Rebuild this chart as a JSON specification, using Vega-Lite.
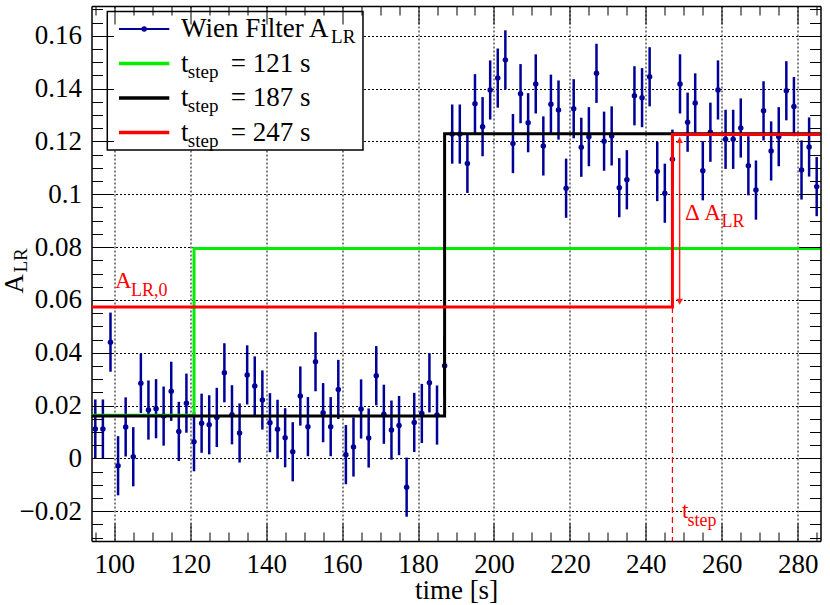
{
  "$schema": "https://vega.github.io/schema/vega-lite/v6.json",
  "width": 729,
  "height": 535,
  "autosize": {"type": "none"},
  "padding": {"left": 91.5, "top": 6, "right": 9.5, "bottom": 64},
  "background": "white",
  "config": {"view": {"stroke": null}, "font": "Liberation Serif", "text": {"font": "Liberation Serif"}},
  "datasets": {
    "points": [
      {"t": 95, "a": 0.0111, "err": 0.0112}, {"t": 97, "a": 0.0111, "err": 0.0112}, {"t": 99, "a": 0.0440, "err": 0.0112},
      {"t": 101, "a": -0.0028, "err": 0.0112}, {"t": 103, "a": 0.0119, "err": 0.0112}, {"t": 105, "a": 0.0006, "err": 0.0112},
      {"t": 107, "a": 0.0284, "err": 0.0112}, {"t": 109, "a": 0.0183, "err": 0.0112}, {"t": 111, "a": 0.0188, "err": 0.0112},
      {"t": 113, "a": 0.0160, "err": 0.0112}, {"t": 115, "a": 0.0254, "err": 0.0112}, {"t": 117, "a": 0.0102, "err": 0.0112},
      {"t": 119, "a": 0.0209, "err": 0.0112}, {"t": 121, "a": 0.0063, "err": 0.0112}, {"t": 123, "a": 0.0133, "err": 0.0112},
      {"t": 125, "a": 0.0127, "err": 0.0112}, {"t": 127, "a": 0.0155, "err": 0.0112}, {"t": 129, "a": 0.0324, "err": 0.0112},
      {"t": 131, "a": 0.0165, "err": 0.0112}, {"t": 133, "a": 0.0096, "err": 0.0112}, {"t": 135, "a": 0.0316, "err": 0.0112},
      {"t": 137, "a": 0.0274, "err": 0.0112}, {"t": 139, "a": 0.0221, "err": 0.0112}, {"t": 141, "a": 0.0135, "err": 0.0112},
      {"t": 143, "a": 0.0110, "err": 0.0112}, {"t": 145, "a": 0.0078, "err": 0.0112}, {"t": 147, "a": 0.0025, "err": 0.0112},
      {"t": 149, "a": 0.0236, "err": 0.0112}, {"t": 151, "a": 0.0120, "err": 0.0112}, {"t": 153, "a": 0.0366, "err": 0.0112},
      {"t": 155, "a": 0.0173, "err": 0.0112}, {"t": 157, "a": 0.0120, "err": 0.0112}, {"t": 159, "a": 0.0261, "err": 0.0112},
      {"t": 161, "a": 0.0014, "err": 0.0112}, {"t": 163, "a": 0.0043, "err": 0.0112}, {"t": 165, "a": 0.0187, "err": 0.0112},
      {"t": 167, "a": 0.0077, "err": 0.0112}, {"t": 169, "a": 0.0313, "err": 0.0112}, {"t": 171, "a": 0.0167, "err": 0.0112},
      {"t": 173, "a": 0.0107, "err": 0.0112}, {"t": 175, "a": 0.0124, "err": 0.0112}, {"t": 177, "a": -0.0109, "err": 0.0112},
      {"t": 179, "a": 0.0136, "err": 0.0112}, {"t": 181, "a": 0.0170, "err": 0.0112}, {"t": 183, "a": 0.0286, "err": 0.0112},
      {"t": 185, "a": 0.0164, "err": 0.0112}, {"t": 187, "a": 0.0351, "err": 0.0112}, {"t": 189, "a": 0.1228, "err": 0.0112},
      {"t": 191, "a": 0.1228, "err": 0.0112}, {"t": 193, "a": 0.1117, "err": 0.0112}, {"t": 195, "a": 0.1343, "err": 0.0112},
      {"t": 197, "a": 0.1256, "err": 0.0112}, {"t": 199, "a": 0.1395, "err": 0.0112}, {"t": 201, "a": 0.1440, "err": 0.0112},
      {"t": 203, "a": 0.1509, "err": 0.0112}, {"t": 205, "a": 0.1192, "err": 0.0112}, {"t": 207, "a": 0.1381, "err": 0.0112},
      {"t": 209, "a": 0.1271, "err": 0.0112}, {"t": 211, "a": 0.1418, "err": 0.0112}, {"t": 213, "a": 0.1183, "err": 0.0112},
      {"t": 215, "a": 0.1341, "err": 0.0112}, {"t": 217, "a": 0.1319, "err": 0.0112}, {"t": 219, "a": 0.1023, "err": 0.0112},
      {"t": 221, "a": 0.1324, "err": 0.0112}, {"t": 223, "a": 0.1178, "err": 0.0112}, {"t": 225, "a": 0.1218, "err": 0.0112},
      {"t": 227, "a": 0.1458, "err": 0.0112}, {"t": 229, "a": 0.1201, "err": 0.0112}, {"t": 231, "a": 0.1221, "err": 0.0112},
      {"t": 233, "a": 0.1025, "err": 0.0112}, {"t": 235, "a": 0.1055, "err": 0.0112}, {"t": 237, "a": 0.1373, "err": 0.0112},
      {"t": 239, "a": 0.1366, "err": 0.0112}, {"t": 241, "a": 0.1445, "err": 0.0112}, {"t": 243, "a": 0.1086, "err": 0.0112},
      {"t": 245, "a": 0.1004, "err": 0.0112}, {"t": 247, "a": 0.1133, "err": 0.0112}, {"t": 249, "a": 0.1418, "err": 0.0112},
      {"t": 251, "a": 0.1273, "err": 0.0112}, {"t": 253, "a": 0.1346, "err": 0.0112}, {"t": 255, "a": 0.1089, "err": 0.0112},
      {"t": 257, "a": 0.1235, "err": 0.0112}, {"t": 259, "a": 0.1395, "err": 0.0112}, {"t": 261, "a": 0.1208, "err": 0.0112},
      {"t": 263, "a": 0.1208, "err": 0.0112}, {"t": 265, "a": 0.1251, "err": 0.0112}, {"t": 267, "a": 0.1108, "err": 0.0112},
      {"t": 269, "a": 0.1016, "err": 0.0112}, {"t": 271, "a": 0.1316, "err": 0.0112}, {"t": 273, "a": 0.1164, "err": 0.0112},
      {"t": 275, "a": 0.1218, "err": 0.0112}, {"t": 277, "a": 0.1392, "err": 0.0112}, {"t": 279, "a": 0.1332, "err": 0.0112},
      {"t": 281, "a": 0.1092, "err": 0.0112}, {"t": 283, "a": 0.1179, "err": 0.0112}, {"t": 285, "a": 0.1029, "err": 0.0112}
    ],
    "fits": [
      {"series": "fit121", "t": 94, "a": 0.0163}, {"series": "fit121", "t": 121, "a": 0.0795}, {"series": "fit121", "t": 286, "a": 0.0795},
      {"series": "fit187", "t": 94, "a": 0.0160}, {"series": "fit187", "t": 187, "a": 0.1229}, {"series": "fit187", "t": 286, "a": 0.1229},
      {"series": "fit247", "t": 94, "a": 0.0573}, {"series": "fit247", "t": 247, "a": 0.1226}, {"series": "fit247", "t": 286, "a": 0.1226}
    ],
    "legend": [
      {"series": "data", "pre": "Wien Filter A", "sub": "LR", "post": ""},
      {"series": "fit121", "pre": "t", "sub": "step", "post": "= 121 s"},
      {"series": "fit187", "pre": "t", "sub": "step", "post": "= 187 s"},
      {"series": "fit247", "pre": "t", "sub": "step", "post": "= 247 s"}
    ]
  },
  "layer": [
    {
      "data": {"name": "points"},
      "resolve": {"axis": {"x": "independent", "y": "independent"}},
      "layer": [
        {
          "mark": {"type": "point", "opacity": 0},
          "encoding": {
            "x": {
              "field": "t", "type": "quantitative",
              "scale": {"domain": [94, 286], "nice": false, "zero": false},
              "axis": {
                "orient": "bottom", "values": [100, 120, 140, 160, 180, 200, 220, 240, 260, 280],
                "ticks": false, "grid": true, "gridColor": "#000000", "gridDash": [2, 2], "gridWidth": 1,
                "domain": true, "domainColor": "#000000", "domainWidth": 1.5,
                "labelFont": "Liberation Serif", "labelFontSize": 27, "labelColor": "#000000",
                "labelBaseline": "alphabetic", "labelPadding": 31, "labelFlush": false, "labelOverlap": false, "labelBound": false,
                "title": "time [s]", "titleFont": "Liberation Serif", "titleFontSize": 27, "titleFontWeight": "normal",
                "titleColor": "#000000", "titleBaseline": "alphabetic", "titleAlign": "center", "titleX": 364.5, "titleY": 57
              }
            },
            "y": {"field": "a", "type": "quantitative", "scale": {"domain": [-0.0313, 0.1713], "nice": false, "zero": false}, "axis": null}
          }
        },
        {
          "mark": {"type": "point", "opacity": 0},
          "encoding": {
            "x": {
              "field": "t", "type": "quantitative",
              "scale": {"domain": [94, 286], "nice": false, "zero": false},
              "axis": {
                "orient": "bottom",
                "values": [95, 100, 105, 110, 115, 120, 125, 130, 135, 140, 145, 150, 155, 160, 165, 170, 175, 180, 185, 190, 195, 200, 205, 210, 215, 220, 225, 230, 235, 240, 245, 250, 255, 260, 265, 270, 275, 280, 285],
                "labels": false, "grid": false, "domain": false, "title": null, "zindex": 1,
                "tickColor": "#000000", "tickWidth": 1,
                "tickSize": {"condition": {"test": "datum.value % 20 === 0", "value": -18}, "value": -9}
              }
            },
            "y": {"field": "a", "type": "quantitative", "scale": {"domain": [-0.0313, 0.1713], "nice": false, "zero": false}, "axis": null}
          }
        },
        {
          "mark": {"type": "point", "opacity": 0},
          "encoding": {
            "x": {
              "field": "t", "type": "quantitative",
              "scale": {"domain": [94, 286], "nice": false, "zero": false},
              "axis": {
                "orient": "top",
                "values": [95, 100, 105, 110, 115, 120, 125, 130, 135, 140, 145, 150, 155, 160, 165, 170, 175, 180, 185, 190, 195, 200, 205, 210, 215, 220, 225, 230, 235, 240, 245, 250, 255, 260, 265, 270, 275, 280, 285],
                "labels": false, "grid": false, "domain": true, "domainColor": "#000000", "domainWidth": 1.5, "title": null, "zindex": 1,
                "tickColor": "#000000", "tickWidth": 1,
                "tickSize": {"condition": {"test": "datum.value % 20 === 0", "value": -18}, "value": -9}
              }
            },
            "y": {"field": "a", "type": "quantitative", "scale": {"domain": [-0.0313, 0.1713], "nice": false, "zero": false}, "axis": null}
          }
        },
        {
          "mark": {"type": "point", "opacity": 0},
          "encoding": {
            "x": {"field": "t", "type": "quantitative", "scale": {"domain": [94, 286], "nice": false, "zero": false}, "axis": null},
            "y": {
              "field": "a", "type": "quantitative",
              "scale": {"domain": [-0.0313, 0.1713], "nice": false, "zero": false},
              "axis": {
                "orient": "left", "values": [-0.02, 0, 0.02, 0.04, 0.06, 0.08, 0.1, 0.12, 0.14, 0.16], "format": ".2~f",
                "ticks": false, "grid": true, "gridColor": "#000000", "gridDash": [2, 2], "gridWidth": 1,
                "domain": true, "domainColor": "#000000", "domainWidth": 1.5,
                "labelFont": "Liberation Serif", "labelFontSize": 27, "labelColor": "#000000",
                "labelAlign": "right", "labelBaseline": "middle", "labelPadding": 10, "labelFlush": false, "labelOverlap": false, "labelBound": false,
                "title": "A", "titleFont": "Liberation Serif", "titleFontSize": 27, "titleFontWeight": "normal", "titleColor": "#000000",
                "titleAngle": 270, "titleAlign": "left", "titleBaseline": "alphabetic", "titleX": -69, "titleY": 287
              }
            }
          }
        },
        {
          "mark": {"type": "point", "opacity": 0},
          "encoding": {
            "x": {"field": "t", "type": "quantitative", "scale": {"domain": [94, 286], "nice": false, "zero": false}, "axis": null},
            "y": {
              "field": "a", "type": "quantitative",
              "scale": {"domain": [-0.0313, 0.1713], "nice": false, "zero": false},
              "axis": {
                "orient": "left",
                "values": [-0.03, -0.025, -0.02, -0.015, -0.01, -0.005, 0, 0.005, 0.01, 0.015, 0.02, 0.025, 0.03, 0.035, 0.04, 0.045, 0.05, 0.055, 0.06, 0.065, 0.07, 0.075, 0.08, 0.085, 0.09, 0.095, 0.1, 0.105, 0.11, 0.115, 0.12, 0.125, 0.13, 0.135, 0.14, 0.145, 0.15, 0.155, 0.16, 0.165, 0.17],
                "labels": false, "grid": false, "domain": false, "zindex": 1,
                "tickColor": "#000000", "tickWidth": 1,
                "tickSize": {"condition": {"test": "abs(datum.value * 50 - round(datum.value * 50)) < 0.01", "value": -22}, "value": -11},
                "title": "LR", "titleFont": "Liberation Serif", "titleFontSize": 19, "titleFontWeight": "normal", "titleColor": "#000000",
                "titleAngle": 270, "titleAlign": "left", "titleBaseline": "alphabetic", "titleX": -65, "titleY": 266
              }
            }
          }
        },
        {
          "mark": {"type": "point", "opacity": 0},
          "encoding": {
            "x": {"field": "t", "type": "quantitative", "scale": {"domain": [94, 286], "nice": false, "zero": false}, "axis": null},
            "y": {
              "field": "a", "type": "quantitative",
              "scale": {"domain": [-0.0313, 0.1713], "nice": false, "zero": false},
              "axis": {
                "orient": "right",
                "values": [-0.03, -0.025, -0.02, -0.015, -0.01, -0.005, 0, 0.005, 0.01, 0.015, 0.02, 0.025, 0.03, 0.035, 0.04, 0.045, 0.05, 0.055, 0.06, 0.065, 0.07, 0.075, 0.08, 0.085, 0.09, 0.095, 0.1, 0.105, 0.11, 0.115, 0.12, 0.125, 0.13, 0.135, 0.14, 0.145, 0.15, 0.155, 0.16, 0.165, 0.17],
                "labels": false, "grid": false, "domain": true, "domainColor": "#000000", "domainWidth": 1.5, "title": null, "zindex": 1,
                "tickColor": "#000000", "tickWidth": 1,
                "tickSize": {"condition": {"test": "abs(datum.value * 50 - round(datum.value * 50)) < 0.01", "value": -22}, "value": -11}
              }
            }
          }
        },
        {
          "mark": {"type": "errorbar", "color": "#000099", "thickness": 2.5},
          "encoding": {
            "x": {"field": "t", "type": "quantitative", "scale": {"domain": [94, 286], "nice": false, "zero": false}, "axis": null},
            "y": {"field": "a", "type": "quantitative", "scale": {"domain": [-0.0313, 0.1713], "nice": false, "zero": false}, "axis": null},
            "yError": {"field": "err"}
          }
        },
        {
          "mark": {"type": "point", "filled": true, "size": 30, "opacity": 1, "color": "#000099"},
          "encoding": {
            "x": {"field": "t", "type": "quantitative", "scale": {"domain": [94, 286], "nice": false, "zero": false}, "axis": null},
            "y": {"field": "a", "type": "quantitative", "scale": {"domain": [-0.0313, 0.1713], "nice": false, "zero": false}, "axis": null}
          }
        },
        {
          "data": {"name": "fits"},
          "mark": {"type": "line", "interpolate": "step-after", "strokeWidth": 3},
          "encoding": {
            "x": {"field": "t", "type": "quantitative", "scale": {"domain": [94, 286], "nice": false, "zero": false}, "axis": null},
            "y": {"field": "a", "type": "quantitative", "scale": {"domain": [-0.0313, 0.1713], "nice": false, "zero": false}, "axis": null},
            "color": {
              "field": "series", "type": "nominal", "legend": null,
              "scale": {"domain": ["data", "fit121", "fit187", "fit247"], "range": ["#000099", "#00ee00", "#000000", "#ff0000"]}
            }
          }
        },
        {
          "data": {"values": [{}]},
          "mark": {"type": "rule", "color": "#ff0000", "strokeWidth": 1.2, "strokeDash": [6, 4]},
          "encoding": {
            "x": {"datum": 247, "type": "quantitative", "axis": null},
            "y": {"datum": 0.0573, "type": "quantitative", "axis": null},
            "y2": {"datum": -0.0313}
          }
        },
        {
          "data": {"values": [{}]},
          "mark": {"type": "rule", "color": "#ff2020", "strokeWidth": 1.5},
          "encoding": {
            "x": {"datum": 248.9, "type": "quantitative", "axis": null},
            "y": {"datum": 0.0590, "type": "quantitative", "axis": null},
            "y2": {"datum": 0.1215}
          }
        },
        {
          "data": {"values": [{}]},
          "mark": {"type": "point", "shape": "triangle-down", "filled": true, "opacity": 1, "size": 45, "color": "#ff2020"},
          "encoding": {
            "x": {"datum": 248.9, "type": "quantitative", "axis": null},
            "y": {"datum": 0.0593, "type": "quantitative", "axis": null}
          }
        },
        {
          "data": {"values": [{}]},
          "mark": {"type": "point", "shape": "triangle-up", "filled": true, "opacity": 1, "size": 45, "color": "#ff2020"},
          "encoding": {
            "x": {"datum": 248.9, "type": "quantitative", "axis": null},
            "y": {"datum": 0.1205, "type": "quantitative", "axis": null}
          }
        },
        {
          "data": {"values": [{}]},
          "mark": {"type": "text", "text": "A", "color": "#ff0000", "fontSize": 23, "align": "left", "baseline": "alphabetic"},
          "encoding": {
            "x": {"datum": 100.19, "type": "quantitative", "axis": null},
            "y": {"datum": 0.0644, "type": "quantitative", "axis": null}
          }
        },
        {
          "data": {"values": [{}]},
          "mark": {"type": "text", "text": "LR,0", "color": "#ff0000", "fontSize": 18, "align": "left", "baseline": "alphabetic"},
          "encoding": {
            "x": {"datum": 104.4, "type": "quantitative", "axis": null},
            "y": {"datum": 0.0615, "type": "quantitative", "axis": null}
          }
        },
        {
          "data": {"values": [{}]},
          "mark": {"type": "text", "text": "Δ A", "color": "#ff0000", "fontSize": 23, "align": "left", "baseline": "alphabetic"},
          "encoding": {
            "x": {"datum": 250.31, "type": "quantitative", "axis": null},
            "y": {"datum": 0.0903, "type": "quantitative", "axis": null}
          }
        },
        {
          "data": {"values": [{}]},
          "mark": {"type": "text", "text": "LR", "color": "#ff0000", "fontSize": 18, "align": "left", "baseline": "alphabetic"},
          "encoding": {
            "x": {"datum": 259.9, "type": "quantitative", "axis": null},
            "y": {"datum": 0.0877, "type": "quantitative", "axis": null}
          }
        },
        {
          "data": {"values": [{}]},
          "mark": {"type": "text", "text": "t", "color": "#ff0000", "fontSize": 23, "align": "left", "baseline": "alphabetic"},
          "encoding": {
            "x": {"datum": 249.52, "type": "quantitative", "axis": null},
            "y": {"datum": -0.0226, "type": "quantitative", "axis": null}
          }
        },
        {
          "data": {"values": [{}]},
          "mark": {"type": "text", "text": "step", "color": "#ff0000", "fontSize": 18, "align": "left", "baseline": "alphabetic"},
          "encoding": {
            "x": {"datum": 250.97, "type": "quantitative", "axis": null},
            "y": {"datum": -0.0255, "type": "quantitative", "axis": null}
          }
        },
        {
          "data": {"values": [{}]},
          "mark": {"type": "rect", "fill": "#ffffff", "stroke": "#000000", "strokeWidth": 1.5},
          "encoding": {
            "x": {"datum": 98.16, "type": "quantitative", "axis": null},
            "x2": {"datum": 165.5},
            "y": {"datum": 0.1692, "type": "quantitative", "axis": null},
            "y2": {"datum": 0.1168}
          }
        }
      ]
    },
    {
      "data": {"name": "legend"},
      "encoding": {
        "y": {
          "field": "series", "type": "nominal", "axis": null,
          "scale": {"type": "point", "domain": ["data", "fit121", "fit187", "fit247"], "range": [23, 126.5], "padding": 0}
        }
      },
      "layer": [
        {
          "mark": {"type": "rule"},
          "encoding": {
            "x": {"datum": 101.24, "type": "quantitative", "axis": null},
            "x2": {"datum": 114.49},
            "color": {
              "field": "series", "type": "nominal", "legend": null,
              "scale": {"domain": ["data", "fit121", "fit187", "fit247"], "range": ["#000099", "#00ee00", "#000000", "#ff0000"]}
            },
            "strokeWidth": {"condition": {"test": "datum.series === 'data'", "value": 2}, "value": 3.5}
          }
        },
        {
          "transform": [{"filter": "datum.series === 'data'"}],
          "mark": {"type": "point", "filled": true, "size": 30, "opacity": 1, "color": "#000099"},
          "encoding": {
            "x": {"datum": 107.87, "type": "quantitative", "axis": null}
          }
        },
        {
          "mark": {"type": "text", "fontSize": 27, "align": "left", "baseline": "alphabetic", "dy": 8, "color": "#000000"},
          "encoding": {
            "x": {"datum": 117.57, "type": "quantitative", "axis": null},
            "text": {"field": "pre"}
          }
        },
        {
          "transform": [{"filter": "datum.series !== 'data'"}],
          "mark": {"type": "text", "fontSize": 19, "align": "left", "baseline": "alphabetic", "dy": 14, "color": "#000000"},
          "encoding": {
            "x": {"datum": 119.36, "type": "quantitative", "axis": null},
            "text": {"field": "sub"}
          }
        },
        {
          "transform": [{"filter": "datum.series === 'data'"}],
          "mark": {"type": "text", "fontSize": 19, "align": "left", "baseline": "alphabetic", "dy": 14, "color": "#000000"},
          "encoding": {
            "x": {"datum": 157.1, "type": "quantitative", "axis": null},
            "text": {"field": "sub"}
          }
        },
        {
          "transform": [{"filter": "datum.series !== 'data'"}],
          "mark": {"type": "text", "fontSize": 27, "align": "left", "baseline": "alphabetic", "dy": 8, "color": "#000000"},
          "encoding": {
            "x": {"datum": 130.66, "type": "quantitative", "axis": null},
            "text": {"field": "post"}
          }
        }
      ]
    }
  ],
  "resolve": {"scale": {"y": "independent"}}
}
